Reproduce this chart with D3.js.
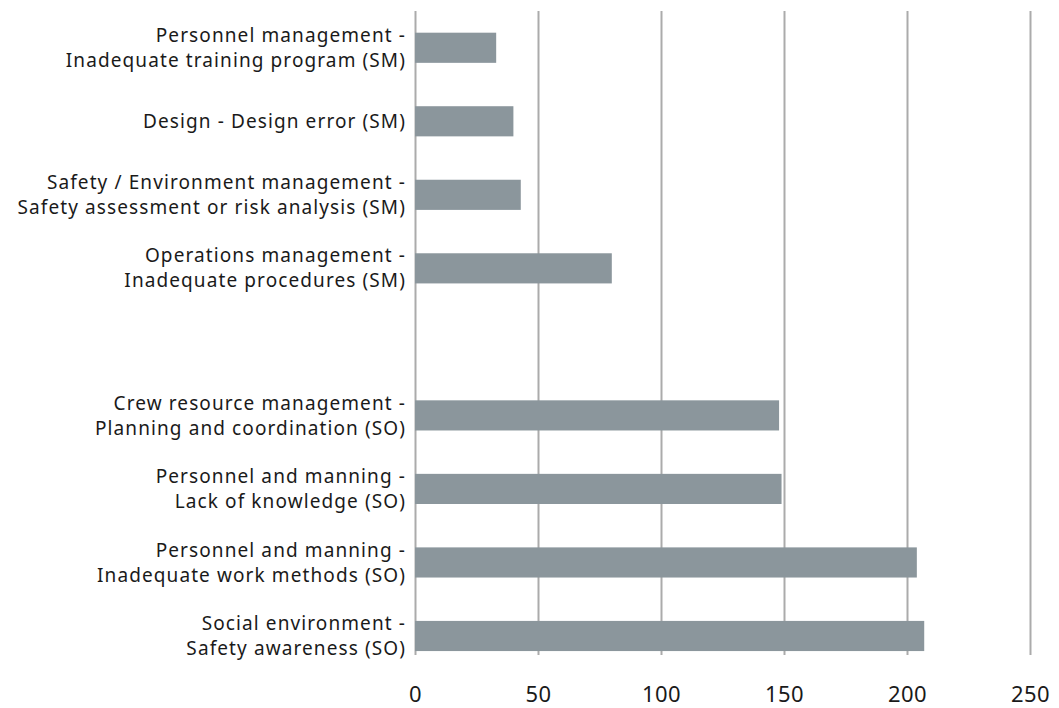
<!DOCTYPE html>
<html>
<head>
<meta charset="utf-8">
<script src="https://cdn.jsdelivr.net/npm/d3@7"></script>
<style>
    body { margin: 0; background: #ffffff; }
    svg { display: block; font-family: "Noto Sans", sans-serif; }
</style>
</head>
<body>
<svg id="chart"></svg>
<script>
// categories top to bottom; an empty string leaves the gap between SM and SO groups
const categories = [
    "Personnel management -\nInadequate training program (SM)",
    "Design - Design error (SM)",
    "Safety / Environment management -\nSafety assessment or risk analysis (SM)",
    "Operations management -\nInadequate procedures (SM)",
    "",
    "Crew resource management -\nPlanning and coordination (SO)",
    "Personnel and manning -\nLack of knowledge (SO)",
    "Personnel and manning -\nInadequate work methods (SO)",
    "Social environment -\nSafety awareness (SO)"
];
const values = [33, 40, 43, 80, null, 148, 149, 204, 207];
const xTicks = [0, 50, 100, 150, 200, 250];

const width = 1059;
const height = 708;
const margin = { top: 11, right: 29, bottom: 53, left: 415 };

const svg = d3.select("#chart")
    .attr("width", width)
    .attr("height", height);

const data = categories.map((c, i) => ({ key: "c" + i, label: c, value: values[i] }));

const xscale = d3.scaleLinear()
    .domain([0, 250])
    .range([margin.left, width - margin.right]);

const yscale = d3.scaleBand()
    .domain(data.map(d => d.key))
    .range([margin.top, 672.75])
    .paddingInner(0.59)
    .paddingOuter(0.295);

const gridBottom = height - margin.bottom;

// vertical grid + tick labels
const xAxis = svg.append("g")
    .attr("transform", `translate(0,${gridBottom})`)
    .call(d3.axisBottom(xscale)
        .tickValues(xTicks)
        .tickSize(-(gridBottom - margin.top))
        .tickPadding(31));

xAxis.select(".domain").remove();
xAxis.selectAll(".tick line")
    .attr("stroke", "#ababab")
    .attr("stroke-width", 2);
xAxis.selectAll(".tick text")
    .attr("fill", "#1a1a1a")
    .style("font-size", "22px")
    .style("letter-spacing", "0.5px")
    .style("font-family", "'Noto Sans', sans-serif");

// bars
svg.selectAll(".bar")
    .data(data.filter(d => d.value != null))
    .enter()
    .append("rect")
    .attr("class", "bar")
    .attr("x", xscale(0))
    .attr("y", d => yscale(d.key))
    .attr("width", d => xscale(d.value) - xscale(0))
    .attr("height", yscale.bandwidth())
    .attr("fill", "#8b969c");

// category labels, one or two lines
const lineH = 25;
const labels = svg.selectAll(".label")
    .data(data.filter(d => d.label !== ""))
    .enter()
    .append("text")
    .attr("class", "label")
    .attr("text-anchor", "end")
    .attr("fill", "#1a1a1a")
    .style("font-size", "19px")
    .style("letter-spacing", "1.1px");

labels.each(function (d) {
    const lines = d.label.split("\n");
    const cy = yscale(d.key) + yscale.bandwidth() / 2;
    const y0 = cy - (lines.length - 1) * lineH / 2;
    d3.select(this).selectAll("tspan")
        .data(lines)
        .enter()
        .append("tspan")
        .attr("x", 406)
        .attr("y", (l, i) => y0 + i * lineH)
        .attr("dy", "0.35em")
        .text(l => l);
});
</script>
</body>
</html>
